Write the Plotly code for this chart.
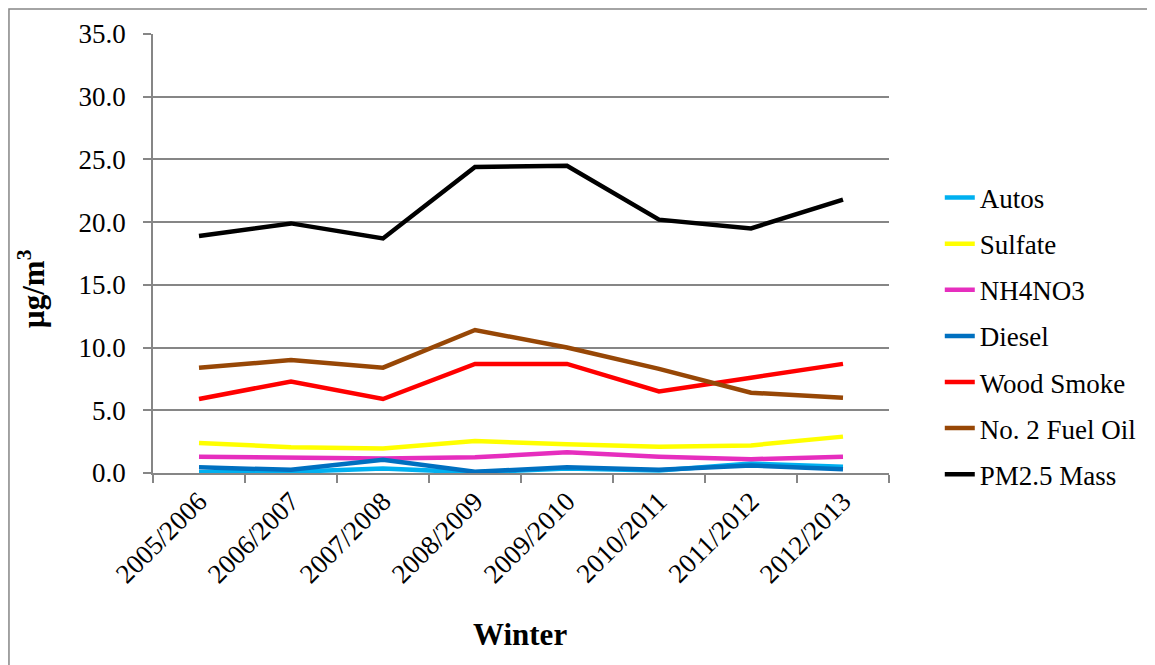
import plotly.graph_objects as go

winters = ["2005/2006", "2006/2007", "2007/2008", "2008/2009",
           "2009/2010", "2010/2011", "2011/2012", "2012/2013"]

autos = [0.05, 0.1, 0.35, 0.05, 0.35, 0.2, 0.75, 0.5]
sulfate = [2.4, 2.05, 1.95, 2.55, 2.3, 2.1, 2.2, 2.9]
nh4no3 = [1.3, 1.2, 1.15, 1.25, 1.65, 1.3, 1.1, 1.3]
diesel = [0.45, 0.25, 1.05, 0.1, 0.45, 0.25, 0.6, 0.3]
wood_smoke = [5.9, 7.3, 5.9, 8.7, 8.7, 6.5, 7.6, 8.7]
fuel_oil = [8.4, 9.0, 8.4, 11.4, 10.0, 8.3, 6.4, 6.0]
pm25 = [18.9, 19.9, 18.7, 24.4, 24.5, 20.2, 19.5, 21.8]

series = [
    ("Autos", autos, "#00B0F0"),
    ("Sulfate", sulfate, "#FFFF00"),
    ("NH4NO3", nh4no3, "#E62EBE"),
    ("Diesel", diesel, "#0070C0"),
    ("Wood Smoke", wood_smoke, "#FF0000"),
    ("No. 2 Fuel Oil", fuel_oil, "#974706"),
    ("PM2.5 Mass", pm25, "#000000"),
]

FONT = "Liberation Serif, Times New Roman, serif"
GRID = "#868686"
FS = 27

fig = go.Figure()
for i, (name, vals, col) in enumerate(series):
    fig.add_trace(go.Scatter(
        x=winters, y=vals, name=name, mode="lines",
        line=dict(color=col, width=4.5),
        legendgroup=f"g{i}",
    ))

fig.update_layout(
    width=1147, height=657,
    margin=dict(l=145, r=266, t=26, b=192),
    paper_bgcolor="white", plot_bgcolor="white",
    font=dict(family=FONT, size=FS, color="black"),
    showlegend=True,
    legend=dict(
        x=1.069, xanchor="left", y=0.312, yanchor="middle",
        font=dict(family=FONT, size=FS, color="black"),
        tracegroupgap=8, bgcolor="rgba(0,0,0,0)",
    ),
    xaxis=dict(
        type="category", tickangle=-45, showgrid=False,
        showline=True, linecolor=GRID, linewidth=1.5,
        ticks="outside", tickson="boundaries", ticklen=8,
        tickcolor=GRID, tickwidth=1.5,
        tickfont=dict(family=FONT, size=FS),
        range=[-0.5, 7.5],
    ),
    yaxis=dict(
        range=[0, 35], dtick=5, tickformat=".1f",
        showgrid=True, gridcolor=GRID, gridwidth=1.5,
        showline=True, linecolor=GRID, linewidth=1.5,
        ticks="outside", ticklen=8, tickcolor=GRID, tickwidth=1.5,
        tickfont=dict(family=FONT, size=FS),
        ticklabelstandoff=12,
        zeroline=False,
    ),
    annotations=[
        dict(text="<b>Winter</b>", xref="paper", yref="paper",
             x=0.4986, y=-0.369, xanchor="center", yanchor="middle",
             showarrow=False, font=dict(family=FONT, size=31)),
        dict(text="<b>µg/m<sup>3</sup></b>", xref="paper", yref="paper",
             x=-0.165, y=0.42, xanchor="center", yanchor="middle",
             textangle=-90, showarrow=False, font=dict(family=FONT, size=31)),
    ],
    shapes=[
        dict(type="rect", xref="paper", yref="paper",
             x0=-0.1957, x1=1.6, y0=-0.8, y1=1.0569,
             line=dict(color=GRID, width=1.5), layer="below"),
    ],
)

fig.write_html("out.html")
